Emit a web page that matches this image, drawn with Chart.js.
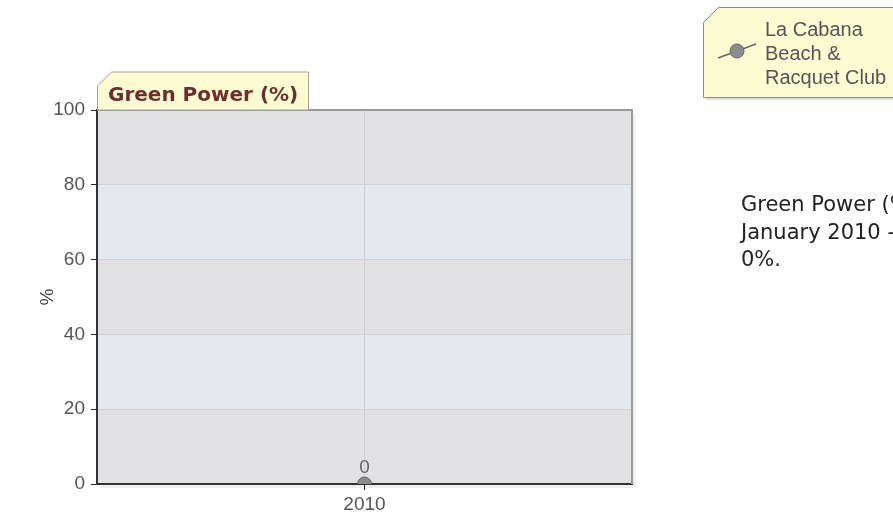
<!DOCTYPE html>
<html>
<head>
<meta charset="utf-8">
<script src="https://cdn.jsdelivr.net/npm/chart.js@4"></script>
<style>
  html, body { margin: 0; padding: 0; background: #fff; overflow: hidden; width: 893px; height: 517px; }
  #wrap { position: absolute; left: 0; top: 0; width: 893px; height: 517px; }
  #note {
    position: absolute; left: 741px; top: 191px; white-space: nowrap;
    font-family: 'DejaVu Sans', Verdana, sans-serif; font-size: 21px; line-height: 27.5px; color: #222;
  }
</style>
</head>
<body>
<div id="wrap"><canvas id="myChart" width="893" height="517"></canvas></div>
<div id="note"></div>
<script>
const siteName = 'La Cabana Beach & Racquet Club'
const legendLines = ['La Cabana', 'Beach &', 'Racquet Club']
const years = ['2010']
const greenPower = [0]
const yTicks = [0, 20, 40, 60, 80, 100]
const chartTitle = 'Green Power (%)'
const noteLines = ['Green Power (%) for', 'January 2010 - December 2010:', '0%.']

document.getElementById('note').innerHTML = noteLines.join('<br>')

const tickFont = { family: "'Liberation Sans', Arial, sans-serif", size: 19 }

// alternating bands + shadow behind the plot
const bands = {
  id: 'bands',
  beforeDraw(chart) {
    const { ctx, chartArea: a, scales: { y } } = chart
    ctx.save()
    ctx.fillStyle = 'rgba(0,0,0,0.06)'
    ctx.fillRect(a.left + 4, a.top + 4, a.width, a.height)
    for (let i = 0; i < yTicks.length - 1; i++) {
      const y0 = y.getPixelForValue(yTicks[i])
      const y1 = y.getPixelForValue(yTicks[i + 1])
      ctx.fillStyle = i % 2 === 0 ? '#e1e1e3' : '#e5e9ed'
      ctx.fillRect(a.left, y1, a.width, y0 - y1)
    }
    ctx.restore()
  }
}

function tab(ctx, x, y, w, h, cut) {
  ctx.beginPath()
  ctx.moveTo(x, y + h)
  ctx.lineTo(x, y + cut)
  ctx.lineTo(x + cut, y)
  ctx.lineTo(x + w, y)
  ctx.lineTo(x + w, y + h)
  ctx.closePath()
}

const extras = {
  id: 'extras',
  afterDraw(chart) {
    const { ctx, chartArea: a } = chart
    ctx.save()
    // frame: top/right gray, left/bottom dark
    ctx.lineWidth = 2
    ctx.strokeStyle = '#9a9a9a'
    ctx.beginPath()
    ctx.moveTo(a.left, a.top); ctx.lineTo(a.right, a.top); ctx.lineTo(a.right, a.bottom)
    ctx.stroke()

    // title tab
    tab(ctx, a.left + 0.5, a.top - 38, 211, 38, 14)
    ctx.fillStyle = '#fdfbd2'
    ctx.fill()
    ctx.lineWidth = 1
    ctx.strokeStyle = '#a0a0a0'
    ctx.stroke()
    ctx.fillStyle = '#6b2f2f'
    ctx.font = "bold 20px 'DejaVu Sans', Verdana, sans-serif"
    ctx.textBaseline = 'alphabetic'
    ctx.fillText(chartTitle, a.left + 11, a.top - 9)

    // legend tab
    ctx.fillStyle = 'rgba(0,0,0,0.12)'
    tab(ctx, 706, 10, 200, 90, 15)
    ctx.fill()
    tab(ctx, 703.5, 7.5, 200, 90, 15)
    ctx.fillStyle = '#fdfbd2'
    ctx.fill()
    ctx.strokeStyle = '#8a8a8a'
    ctx.stroke()
    ctx.strokeStyle = '#666'
    ctx.lineWidth = 1.5
    ctx.beginPath()
    ctx.moveTo(718, 58); ctx.lineTo(756, 44)
    ctx.stroke()
    ctx.beginPath()
    ctx.arc(737, 51, 7, 0, Math.PI * 2)
    ctx.fillStyle = '#8c8c8c'
    ctx.fill()
    ctx.lineWidth = 1
    ctx.strokeStyle = '#666'
    ctx.stroke()
    ctx.fillStyle = '#555'
    ctx.font = "20px 'Liberation Sans', Arial, sans-serif"
    legendLines.forEach((t, i) => ctx.fillText(t, 765, 36 + i * 24))

    // value label above the point
    const meta = chart.getDatasetMeta(0)
    ctx.fillStyle = '#666'
    ctx.font = "19px 'Liberation Sans', Arial, sans-serif"
    ctx.textAlign = 'center'
    meta.data.forEach((p, i) => ctx.fillText(String(greenPower[i]), p.x, p.y - 11))
    ctx.restore()
  }
}

const data = {
  labels: years,
  datasets: [{
    label: siteName,
    data: greenPower,
    borderColor: '#666',
    backgroundColor: '#8c8c8c',
    pointBorderColor: '#6a6a6a',
    pointRadius: 7,
    pointHoverRadius: 7,
    borderWidth: 1
  }]
}

const config = {
  type: 'line',
  data: data,
  plugins: [bands, extras],
  options: {
    responsive: false,
    animation: false,
    layout: { padding: { top: 110, right: 261, left: 0, bottom: 0 } },
    plugins: { legend: { display: false }, tooltip: { enabled: false } },
    scales: {
      x: {
        offset: true,
        grid: { offset: false, color: '#cfcfcf', tickColor: '#222', tickLength: 6 },
        border: { color: '#333', width: 2 },
        ticks: { color: '#555', font: tickFont, padding: 3 },
        afterFit: s => { s.height = 33 }
      },
      y: {
        min: 0, max: 100,
        afterBuildTicks: s => { s.ticks = yTicks.map(v => ({ value: v })) },
        grid: { color: '#d2d2d2', tickColor: '#222', tickLength: 6 },
        border: { color: '#333', width: 2 },
        ticks: { color: '#555', font: tickFont, padding: 6 },
        title: { display: true, text: '%', color: '#444', font: { family: "'Liberation Sans', Arial, sans-serif", size: 19 }, padding: { top: 36, bottom: 0 } },
        afterFit: s => { s.width = 97 }
      }
    }
  }
}

const myChart = new Chart(document.getElementById('myChart'), config)
</script>
</body>
</html>
